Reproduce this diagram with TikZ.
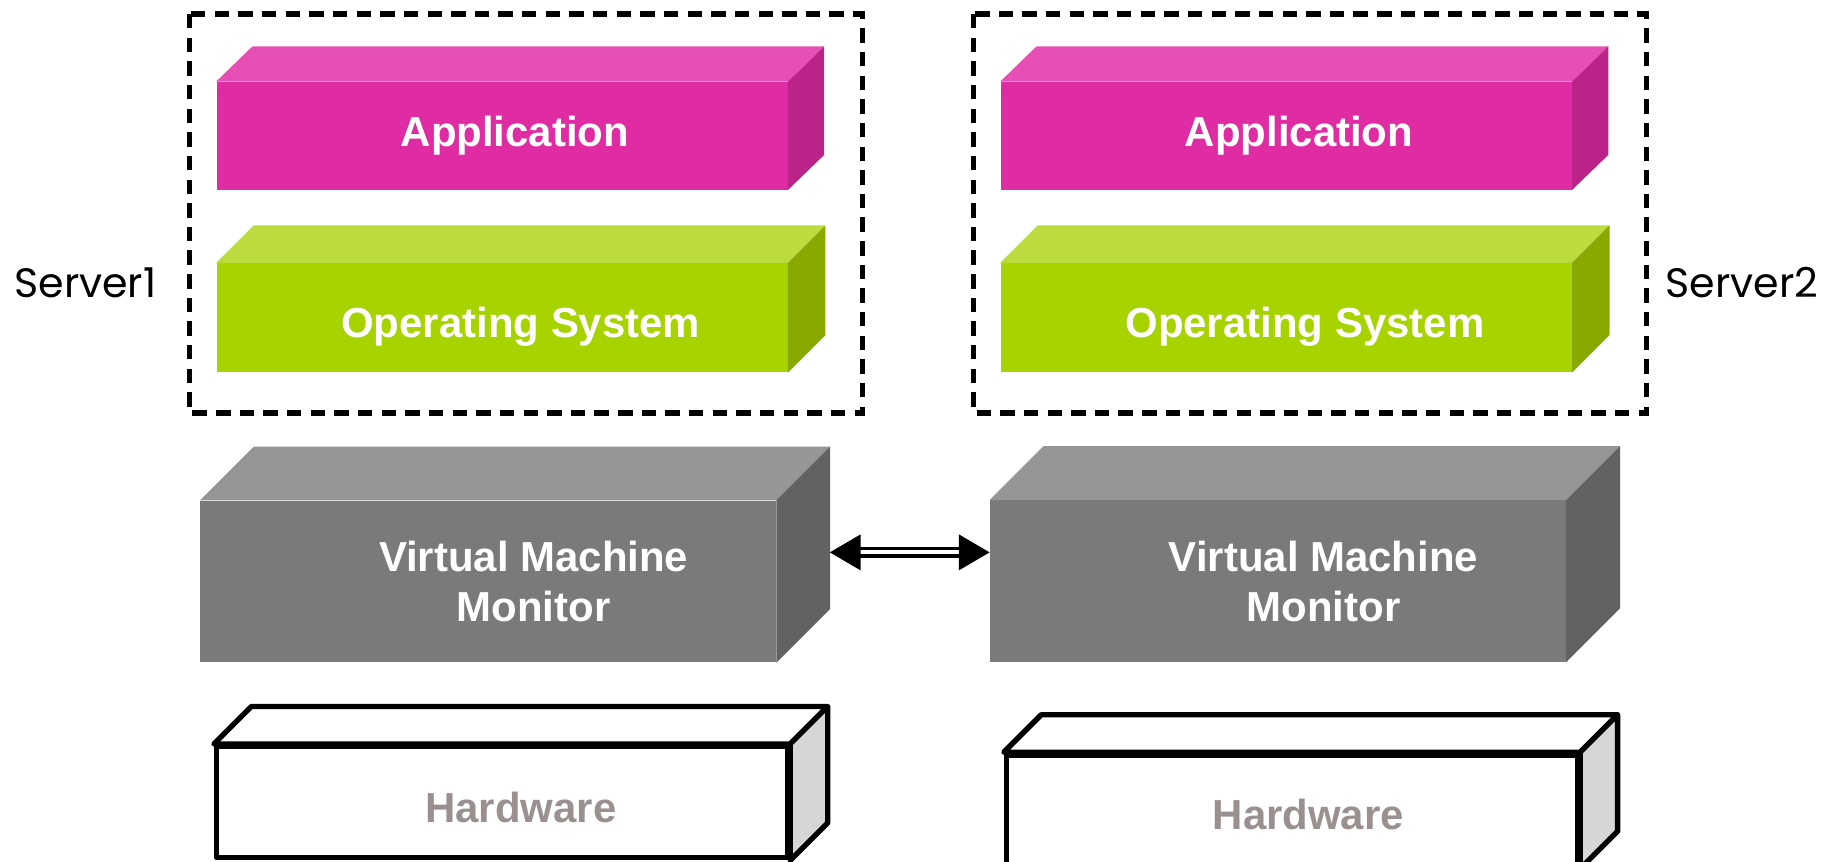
\documentclass[tikz,border=0pt]{standalone}
\usepackage{fontspec}
\setmainfont{Liberation Sans}
\newfontfamily\srvfont{Poppins}
\usepackage{tikz}
\usepackage{xcolor}
\usetikzlibrary{arrows.meta,calc}

\definecolor{appF}{RGB}{224,44,162}
\definecolor{appT}{RGB}{230,80,180}
\definecolor{appS}{RGB}{187,35,137}
\definecolor{osF}{RGB}{167,211,0}
\definecolor{osT}{RGB}{188,220,62}
\definecolor{osS}{RGB}{136,170,0}
\definecolor{vmmF}{RGB}{122,122,122}
\definecolor{vmmT}{RGB}{150,150,150}
\definecolor{vmmS}{RGB}{98,98,98}
\definecolor{hwS}{RGB}{214,214,214}
\definecolor{hwText}{RGB}{154,144,144}

\tikzset{
  face/.style={rectangle, inner sep=0pt, minimum width=9.76cm},
  appbox/.style={face, fill=appF, minimum height=1.84cm},
  osbox/.style={face, fill=osF, minimum height=1.86cm},
  vmmbox/.style={face, fill=vmmF, minimum width=9.84cm, minimum height=2.76cm},
  hwline/.style={draw=black, line width=2.6pt, line join=round},
  hwbox/.style={face, fill=white, hwline, minimum height=1.9cm},
  lbl/.style={font=\bfseries\fontsize{20.4}{24.4}\selectfont, text=white, inner sep=0pt, align=center},
  hwlbl/.style={lbl, text=hwText},
  srvlbl/.style={font=\srvfont\fontsize{20}{22}\selectfont, inner sep=0pt, anchor=base west},
  srvbox/.style={draw=black, line width=2.6pt, dash pattern=on 7pt off 4.5pt},
  link/.style={{Triangle[length=15pt,width=17pt]}-{Triangle[length=15pt,width=17pt]}, double, double distance=1.9pt, line width=1.9pt}
}

% top and side faces of a block: front node, depth dx, dy, style
\newcommand{\slabtop}[4]{\path[#4] (#1.north west) -- ++(#2,#3) -- ([shift={(#2,#3)}]#1.north east) -- (#1.north east) -- cycle;}
\newcommand{\slabside}[4]{\path[#4] (#1.north east) -- ++(#2,#3) -- ([shift={(#2,#3)}]#1.south east) -- (#1.south east) -- cycle;}

\begin{document}
\begin{tikzpicture}[x=0.02cm, y=-0.02cm]
	\useasboundingbox (0,0) rectangle (1568,736);
	\clip (0,0) rectangle (1568,736);

	% server frames
	\draw[srvbox] (162,12) rectangle (737,353);
	\draw[srvbox] (832,12) rectangle (1407,353);
	\node[srvlbl] (srv1) at (12,254) {Server1};
	\node[srvlbl] (srv2) at (1423,254) {Server2};

	% server 1
	\node[appbox] (app1) at (429,116) {};
	\slabtop{app1}{31}{-30}{fill=appT}
	\slabside{app1}{31}{-30}{fill=appS}
	\node[lbl, anchor=base] (app1t) at (440,125) {Application};

	\node[osbox] (os1) at (429,271.5) {};
	\slabtop{os1}{32}{-32}{fill=osT}
	\slabside{os1}{32}{-32}{fill=osS}
	\node[lbl, anchor=base] (os1t) at (445,288) {Operating System};

	\node[vmmbox] (vmm1) at (417,497) {};
	\slabtop{vmm1}{46}{-46}{fill=vmmT}
	\slabside{vmm1}{46}{-46}{fill=vmmS}
	\node[lbl, anchor=base] (vmm1t) at (456,531) {Virtual Machine\\Monitor};

	\node[hwbox] (hw1) at (429,685.5) {};
	\slabtop{hw1}{32}{-32}{hwline, fill=white}
	\slabside{hw1}{32}{-32}{hwline, fill=hwS}
	\node[hwlbl, anchor=base] (hw1t) at (445,703) {Hardware};

	% server 2
	\node[appbox] (app2) at (1099,116) {};
	\slabtop{app2}{31}{-30}{fill=appT}
	\slabside{app2}{31}{-30}{fill=appS}
	\node[lbl, anchor=base] (app2t) at (1110,125) {Application};

	\node[osbox] (os2) at (1099,271.5) {};
	\slabtop{os2}{32}{-32}{fill=osT}
	\slabside{os2}{32}{-32}{fill=osS}
	\node[lbl, anchor=base] (os2t) at (1115,288) {Operating System};

	\node[vmmbox] (vmm2) at (1092,496.5) {};
	\slabtop{vmm2}{46}{-46}{fill=vmmT}
	\slabside{vmm2}{46}{-46}{fill=vmmS}
	\node[lbl, anchor=base] (vmm2t) at (1131,531) {Virtual Machine\\Monitor};

	\node[hwbox] (hw2) at (1104,692.5) {};
	\slabtop{hw2}{32}{-32}{hwline, fill=white}
	\slabside{hw2}{32}{-32}{hwline, fill=hwS}
	\node[hwlbl, anchor=base] (hw2t) at (1118,709) {Hardware};

	% migration link
	\coordinate (vmm1r) at (709,472);
	\draw[link] (vmm1r) -- (vmm2.west |- vmm1r);
\end{tikzpicture}
\end{document}
